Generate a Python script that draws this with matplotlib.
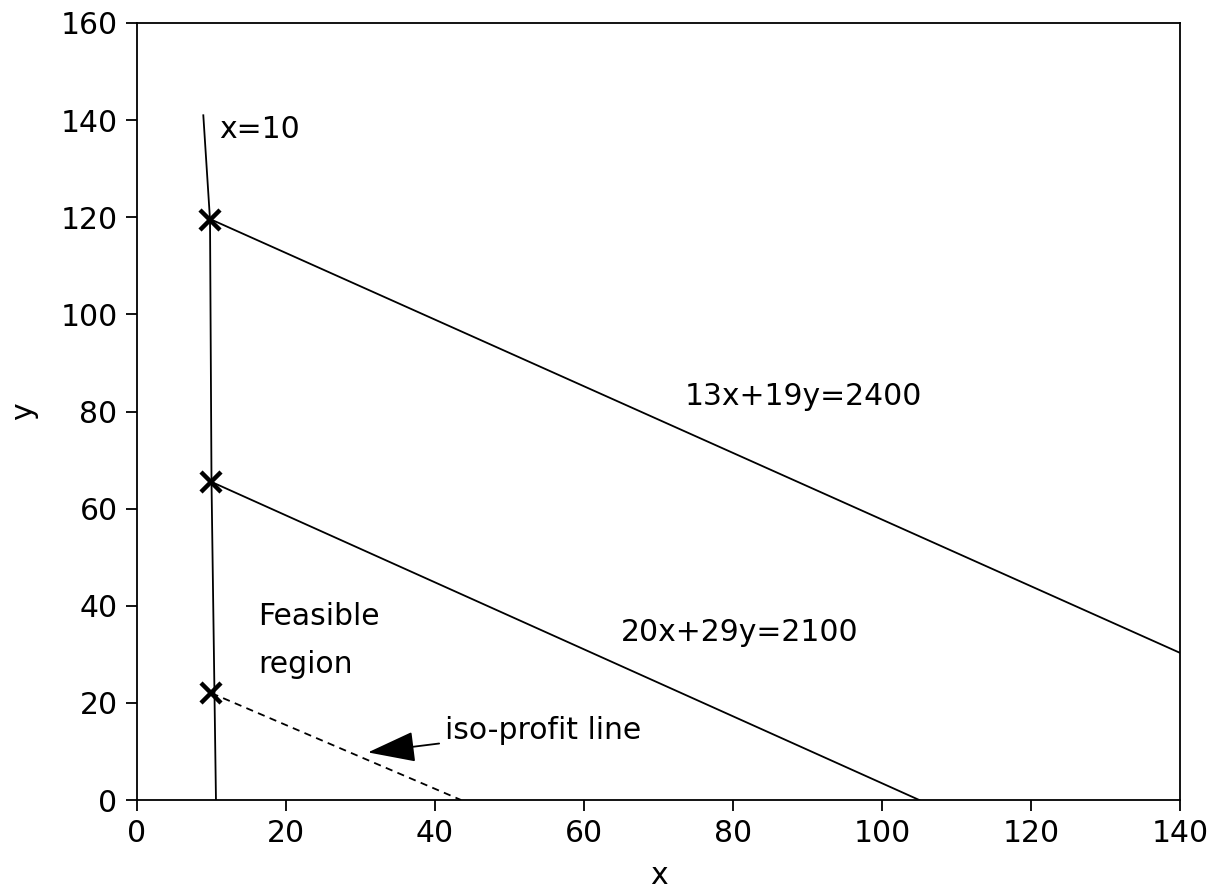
import numpy as np
import matplotlib.pyplot as plt

plt.rcParams['font.family'] = ['DejaVu Sans']

# constraint lines
vert_x = [8.9, 9.8, 10.0, 10.6]
vert_y = [141, 119.5, 65.5, 0]

c1_x = [10, 140]
c1_y = [119.5, 30.3]

c2_x = [10, 105]
c2_y = [65.5, 0]

iso_x = [10, 43.5]
iso_y = [22, 0]

corner_x = [9.8, 9.9, 9.9]
corner_y = [119.5, 65.5, 22]

fig = plt.figure(figsize=(12.09, 8.90), dpi=100)
ax = fig.add_axes([137/1209, 90/890, (1180-137)/1209, (800-23)/890])

ax.plot(vert_x, vert_y, color='k', lw=1.3)
ax.plot(c1_x, c1_y, color='k', lw=1.3)
ax.plot(c2_x, c2_y, color='k', lw=1.3)
ax.plot(iso_x, iso_y, color='k', lw=1.3, ls=(0, (4, 3)))
ax.plot(corner_x, corner_y, 'x', color='k', ms=14, mew=3.2)

fs = 21.5
ax.text(11, 138, 'x=10', fontsize=fs, va='center')
ax.text(73.5, 83, '13x+19y=2400', fontsize=fs, va='center')
ax.text(65, 34.5, '20x+29y=2100', fontsize=fs, va='center')
ax.text(16.3, 37.8, 'Feasible', fontsize=fs, va='center')
ax.text(16.3, 27.8, 'region', fontsize=fs, va='center')
ax.annotate('iso-profit line', xy=(31, 9.8), xytext=(41.3, 14.3),
            fontsize=fs, va='center',
            arrowprops=dict(arrowstyle='-|>,head_length=1.4,head_width=0.45',
                            color='k', lw=1.3, shrinkA=2, shrinkB=0))

ax.set_xlim(0, 140)
ax.set_ylim(0, 160)
ax.set_xticks(np.arange(0, 141, 20))
ax.set_yticks(np.arange(0, 161, 20))
ax.tick_params(direction='out', length=8, width=1.3, labelsize=fs, pad=6)
for s in ax.spines.values():
    s.set_linewidth(1.3)
ax.set_xlabel('x', fontsize=fs, labelpad=9)
ax.set_ylabel('y', fontsize=fs, labelpad=16)

fig.savefig('out.png', dpi=100)
